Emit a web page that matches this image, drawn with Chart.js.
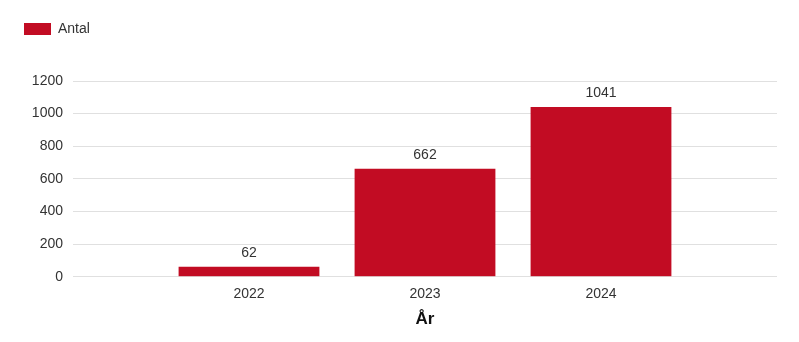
<!DOCTYPE html>
<html>
<head>
<meta charset="utf-8">
<script src="https://cdn.jsdelivr.net/npm/chart.js@4"></script>
<style>
  html, body { margin: 0; padding: 0; background: #fff; }
  #wrap { width: 799px; height: 342px; }
</style>
</head>
<body>
<div id="wrap"><canvas id="antal-chart"></canvas></div>
<script>
// empty slots at the ends give the wide margins of the original
const years = ['', '2022', '2023', '2024', ''];
const antal = [null, 62, 662, 1041, null];
const yTicks = [0, 200, 400, 600, 800, 1000, 1200];

const barColor = '#c20c23';
const textColor = '#333';

// values above the bars
const valueLabels = {
    id: 'valueLabels',
    afterDatasetsDraw(chart) {
        const ctx = chart.ctx;
        const meta = chart.getDatasetMeta(0);
        ctx.save();
        ctx.font = '14px "Liberation Sans", Arial, sans-serif';
        ctx.fillStyle = textColor;
        ctx.textAlign = 'center';
        ctx.textBaseline = 'bottom';
        meta.data.forEach((bar, i) => {
            if (antal[i] == null) return;
            ctx.fillText(String(antal[i]), bar.x, bar.y - 7);
        });
        ctx.restore();
    }
};

// extra room under the legend
const legendGap = {
    id: 'legendGap',
    beforeInit(chart) {
        const fit = chart.legend.fit;
        chart.legend.fit = function () {
            fit.call(this);
            this.height += 35;
        };
    }
};

Chart.defaults.font.family = '"Liberation Sans", Arial, sans-serif';
Chart.defaults.font.size = 14;
Chart.defaults.color = textColor;

new Chart(document.getElementById('antal-chart'), {
    type: 'bar',
    data: {
        labels: years,
        datasets: [{
            label: 'Antal',
            data: antal,
            backgroundColor: barColor,
            borderWidth: 0,
            categoryPercentage: 1,
            barPercentage: 0.8
        }]
    },
    options: {
        responsive: true,
        maintainAspectRatio: false,
        animation: false,
        layout: { padding: { left: 14, right: 22, top: 12, bottom: 12 } },
        plugins: {
            legend: {
                align: 'start',
                labels: { boxWidth: 27, boxHeight: 12, color: textColor }
            },
            tooltip: { enabled: false }
        },
        scales: {
            x: {
                offset: false,
                grid: { display: false },
                border: { display: false },
                ticks: { padding: 1, color: textColor },
                title: {
                    display: true,
                    text: 'År',
                    color: '#111',
                    font: { size: 17, weight: 'bold' },
                    padding: { top: 6, bottom: 0 }
                }
            },
            y: {
                min: 0,
                max: 1200,
                afterBuildTicks(scale) {
                    scale.ticks = yTicks.map(v => ({ value: v }));
                },
                afterFit(scale) { scale.width = 59; },
                grid: { color: '#e0e0e0', drawTicks: false },
                border: { display: false },
                ticks: { padding: 10, color: textColor, callback: v => String(v) }
            }
        }
    },
    plugins: [valueLabels, legendGap]
});
</script>
</body>
</html>
